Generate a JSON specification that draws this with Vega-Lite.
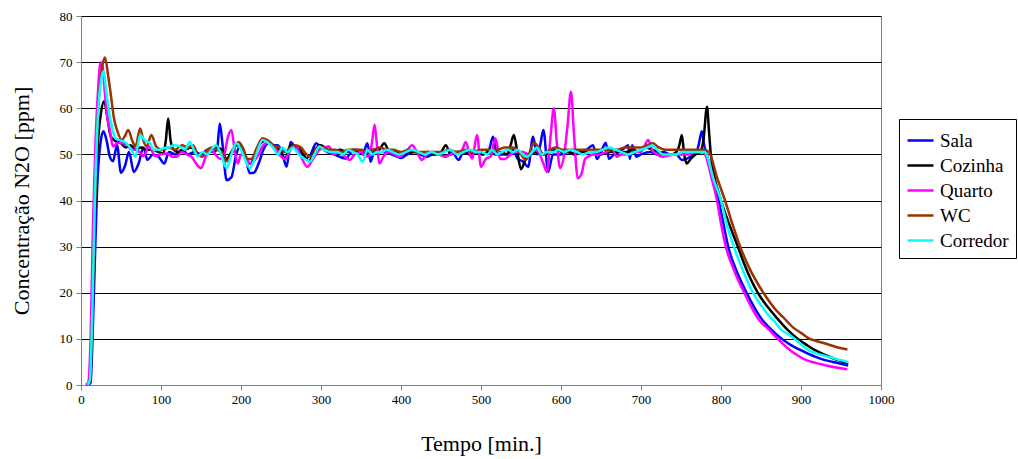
{
  "$schema": "https://vega.github.io/schema/vega-lite/v6.json",
  "width": 800,
  "height": 369,
  "autosize": "none",
  "padding": {"left": 81, "top": 16, "right": 137, "bottom": 74},
  "background": "white",
  "config": {
    "font": "Liberation Serif",
    "view": {"stroke": "#808080", "strokeWidth": 1},
    "axis": {"labelFont": "Liberation Serif", "titleFont": "Liberation Serif", "labelColor": "black", "titleColor": "black", "titleFontWeight": "normal", "domainColor": "#808080", "tickColor": "#808080", "labelFontSize": 13, "titleFontSize": 22, "labelFlush": false},
    "legend": {"labelFont": "Liberation Serif", "titleFont": "Liberation Serif"},
    "text": {"font": "Liberation Serif"}
  },
  "data": {"values": [
{"t":8,"s":"Sala","v":0},{"t":12,"s":"Sala","v":0.5},{"t":14,"s":"Sala","v":8},{"t":17,"s":"Sala","v":25},{"t":20,"s":"Sala","v":42},{"t":24,"s":"Sala","v":52},{"t":28,"s":"Sala","v":55},{"t":32,"s":"Sala","v":53},{"t":36,"s":"Sala","v":49.5},{"t":40,"s":"Sala","v":48.5},{"t":45,"s":"Sala","v":52},{"t":50,"s":"Sala","v":46},{"t":55,"s":"Sala","v":47.5},{"t":60,"s":"Sala","v":50.5},{"t":66,"s":"Sala","v":46.2},{"t":72,"s":"Sala","v":48},{"t":78,"s":"Sala","v":51.5},{"t":83,"s":"Sala","v":48.8},{"t":90,"s":"Sala","v":50},{"t":97,"s":"Sala","v":49.5},{"t":104,"s":"Sala","v":48},{"t":110,"s":"Sala","v":50.5},{"t":118,"s":"Sala","v":50},{"t":126,"s":"Sala","v":51},{"t":134,"s":"Sala","v":50},{"t":142,"s":"Sala","v":50.5},{"t":150,"s":"Sala","v":50},{"t":158,"s":"Sala","v":51},{"t":165,"s":"Sala","v":50.5},{"t":170,"s":"Sala","v":51},{"t":173.5,"s":"Sala","v":56.7},{"t":177,"s":"Sala","v":52},{"t":182,"s":"Sala","v":44.4},{"t":188,"s":"Sala","v":45},{"t":194,"s":"Sala","v":50},{"t":200,"s":"Sala","v":52},{"t":205,"s":"Sala","v":50},{"t":211,"s":"Sala","v":45.9},{"t":216,"s":"Sala","v":46},{"t":222,"s":"Sala","v":48},{"t":228,"s":"Sala","v":51},{"t":235,"s":"Sala","v":52.5},{"t":241,"s":"Sala","v":52},{"t":246,"s":"Sala","v":52},{"t":252,"s":"Sala","v":50},{"t":257,"s":"Sala","v":47.3},{"t":262,"s":"Sala","v":52.7},{"t":268,"s":"Sala","v":51.5},{"t":274,"s":"Sala","v":51},{"t":280,"s":"Sala","v":49},{"t":287,"s":"Sala","v":50},{"t":294,"s":"Sala","v":52.4},{"t":300,"s":"Sala","v":51.5},{"t":308,"s":"Sala","v":50.5},{"t":316,"s":"Sala","v":50},{"t":323,"s":"Sala","v":49.5},{"t":331,"s":"Sala","v":49.1},{"t":338,"s":"Sala","v":50.5},{"t":345,"s":"Sala","v":51},{"t":352,"s":"Sala","v":50},{"t":358,"s":"Sala","v":52.4},{"t":362,"s":"Sala","v":48.4},{"t":367,"s":"Sala","v":51},{"t":372,"s":"Sala","v":50.5},{"t":380,"s":"Sala","v":50.5},{"t":388,"s":"Sala","v":50},{"t":395,"s":"Sala","v":49.5},{"t":400,"s":"Sala","v":49.2},{"t":408,"s":"Sala","v":50},{"t":416,"s":"Sala","v":50.5},{"t":424,"s":"Sala","v":50},{"t":432,"s":"Sala","v":49.5},{"t":440,"s":"Sala","v":50},{"t":448,"s":"Sala","v":50},{"t":456,"s":"Sala","v":49.5},{"t":464,"s":"Sala","v":50.5},{"t":472,"s":"Sala","v":48.8},{"t":478,"s":"Sala","v":50.5},{"t":486,"s":"Sala","v":50},{"t":494,"s":"Sala","v":50.5},{"t":502,"s":"Sala","v":50},{"t":510,"s":"Sala","v":51},{"t":515,"s":"Sala","v":53.8},{"t":520,"s":"Sala","v":50},{"t":526,"s":"Sala","v":50},{"t":532,"s":"Sala","v":50},{"t":540,"s":"Sala","v":51},{"t":546,"s":"Sala","v":49},{"t":552,"s":"Sala","v":48.5},{"t":559,"s":"Sala","v":47.3},{"t":565,"s":"Sala","v":53.8},{"t":570,"s":"Sala","v":50},{"t":574,"s":"Sala","v":52},{"t":578,"s":"Sala","v":55.3},{"t":584,"s":"Sala","v":46.2},{"t":590,"s":"Sala","v":50},{"t":600,"s":"Sala","v":50},{"t":608,"s":"Sala","v":50.5},{"t":616,"s":"Sala","v":50},{"t":624,"s":"Sala","v":50.5},{"t":632,"s":"Sala","v":51},{"t":640,"s":"Sala","v":52},{"t":645,"s":"Sala","v":49},{"t":650,"s":"Sala","v":50.5},{"t":656,"s":"Sala","v":52.5},{"t":660,"s":"Sala","v":49},{"t":666,"s":"Sala","v":50},{"t":672,"s":"Sala","v":50.5},{"t":680,"s":"Sala","v":51.5},{"t":684,"s":"Sala","v":52},{"t":686,"s":"Sala","v":49},{"t":689,"s":"Sala","v":52},{"t":694,"s":"Sala","v":49.5},{"t":700,"s":"Sala","v":50},{"t":712,"s":"Sala","v":50.5},{"t":720,"s":"Sala","v":50},{"t":728,"s":"Sala","v":50.5},{"t":736,"s":"Sala","v":50},{"t":744,"s":"Sala","v":50},{"t":751,"s":"Sala","v":48.8},{"t":756,"s":"Sala","v":49},{"t":762,"s":"Sala","v":49.5},{"t":768,"s":"Sala","v":50},{"t":772,"s":"Sala","v":52},{"t":776,"s":"Sala","v":55},{"t":779,"s":"Sala","v":52},{"t":782,"s":"Sala","v":50},{"t":790,"s":"Sala","v":45},{"t":797,"s":"Sala","v":40},{"t":803,"s":"Sala","v":35},{"t":809,"s":"Sala","v":30},{"t":820,"s":"Sala","v":24.5},{"t":832,"s":"Sala","v":20},{"t":850,"s":"Sala","v":14.5},{"t":863,"s":"Sala","v":12},{"t":876,"s":"Sala","v":10},{"t":888,"s":"Sala","v":8.6},{"t":899,"s":"Sala","v":7.6},{"t":910,"s":"Sala","v":6.7},{"t":920,"s":"Sala","v":6},{"t":930,"s":"Sala","v":5.4},{"t":940,"s":"Sala","v":5},{"t":950,"s":"Sala","v":4.6},{"t":959,"s":"Sala","v":4.2},
{"t":8,"s":"Cozinha","v":0},{"t":11,"s":"Cozinha","v":1},{"t":14,"s":"Cozinha","v":14},{"t":17,"s":"Cozinha","v":35},{"t":21,"s":"Cozinha","v":52},{"t":25,"s":"Cozinha","v":59},{"t":29,"s":"Cozinha","v":61.5},{"t":33,"s":"Cozinha","v":58},{"t":37,"s":"Cozinha","v":54},{"t":42,"s":"Cozinha","v":53},{"t":50,"s":"Cozinha","v":52.4},{"t":56,"s":"Cozinha","v":51.5},{"t":62,"s":"Cozinha","v":52},{"t":68,"s":"Cozinha","v":51},{"t":75,"s":"Cozinha","v":51.5},{"t":82,"s":"Cozinha","v":51},{"t":90,"s":"Cozinha","v":51},{"t":97,"s":"Cozinha","v":50.5},{"t":103,"s":"Cozinha","v":50.2},{"t":106,"s":"Cozinha","v":53},{"t":109,"s":"Cozinha","v":57.8},{"t":112,"s":"Cozinha","v":53},{"t":116,"s":"Cozinha","v":51},{"t":122,"s":"Cozinha","v":50.5},{"t":130,"s":"Cozinha","v":51},{"t":138,"s":"Cozinha","v":51.5},{"t":146,"s":"Cozinha","v":50},{"t":154,"s":"Cozinha","v":50.5},{"t":162,"s":"Cozinha","v":51},{"t":170,"s":"Cozinha","v":51.5},{"t":176,"s":"Cozinha","v":51},{"t":182,"s":"Cozinha","v":49},{"t":188,"s":"Cozinha","v":50.5},{"t":194,"s":"Cozinha","v":52},{"t":200,"s":"Cozinha","v":51.5},{"t":206,"s":"Cozinha","v":49},{"t":212,"s":"Cozinha","v":48},{"t":218,"s":"Cozinha","v":50},{"t":225,"s":"Cozinha","v":52.5},{"t":232,"s":"Cozinha","v":53},{"t":240,"s":"Cozinha","v":52},{"t":248,"s":"Cozinha","v":51},{"t":255,"s":"Cozinha","v":49},{"t":262,"s":"Cozinha","v":52},{"t":270,"s":"Cozinha","v":51.5},{"t":278,"s":"Cozinha","v":50},{"t":285,"s":"Cozinha","v":48.5},{"t":292,"s":"Cozinha","v":51},{"t":300,"s":"Cozinha","v":52},{"t":308,"s":"Cozinha","v":51},{"t":316,"s":"Cozinha","v":50.5},{"t":324,"s":"Cozinha","v":51},{"t":332,"s":"Cozinha","v":50.5},{"t":340,"s":"Cozinha","v":51},{"t":348,"s":"Cozinha","v":50.5},{"t":356,"s":"Cozinha","v":50},{"t":364,"s":"Cozinha","v":51},{"t":372,"s":"Cozinha","v":51},{"t":379,"s":"Cozinha","v":52.4},{"t":386,"s":"Cozinha","v":50.5},{"t":394,"s":"Cozinha","v":50.5},{"t":402,"s":"Cozinha","v":50},{"t":410,"s":"Cozinha","v":50.5},{"t":418,"s":"Cozinha","v":50.5},{"t":426,"s":"Cozinha","v":50},{"t":434,"s":"Cozinha","v":50.5},{"t":442,"s":"Cozinha","v":50},{"t":450,"s":"Cozinha","v":50.5},{"t":456,"s":"Cozinha","v":52},{"t":462,"s":"Cozinha","v":50},{"t":470,"s":"Cozinha","v":50.5},{"t":478,"s":"Cozinha","v":50.5},{"t":486,"s":"Cozinha","v":50},{"t":494,"s":"Cozinha","v":50.5},{"t":502,"s":"Cozinha","v":50},{"t":510,"s":"Cozinha","v":50.5},{"t":518,"s":"Cozinha","v":50},{"t":526,"s":"Cozinha","v":50.5},{"t":532,"s":"Cozinha","v":50},{"t":537,"s":"Cozinha","v":52},{"t":541,"s":"Cozinha","v":54.2},{"t":545,"s":"Cozinha","v":51},{"t":550,"s":"Cozinha","v":46.8},{"t":556,"s":"Cozinha","v":49},{"t":562,"s":"Cozinha","v":50},{"t":570,"s":"Cozinha","v":50.5},{"t":578,"s":"Cozinha","v":50},{"t":586,"s":"Cozinha","v":50.5},{"t":594,"s":"Cozinha","v":51},{"t":602,"s":"Cozinha","v":50.5},{"t":610,"s":"Cozinha","v":50.5},{"t":618,"s":"Cozinha","v":50},{"t":626,"s":"Cozinha","v":50.5},{"t":634,"s":"Cozinha","v":50.5},{"t":642,"s":"Cozinha","v":50.5},{"t":650,"s":"Cozinha","v":50},{"t":658,"s":"Cozinha","v":50.5},{"t":666,"s":"Cozinha","v":50.5},{"t":674,"s":"Cozinha","v":50.5},{"t":682,"s":"Cozinha","v":50.5},{"t":690,"s":"Cozinha","v":51},{"t":698,"s":"Cozinha","v":50.5},{"t":706,"s":"Cozinha","v":51.5},{"t":714,"s":"Cozinha","v":51},{"t":722,"s":"Cozinha","v":50.5},{"t":730,"s":"Cozinha","v":50},{"t":738,"s":"Cozinha","v":50},{"t":744,"s":"Cozinha","v":50.5},{"t":748,"s":"Cozinha","v":52},{"t":751,"s":"Cozinha","v":54.2},{"t":754,"s":"Cozinha","v":50},{"t":757,"s":"Cozinha","v":48},{"t":762,"s":"Cozinha","v":49},{"t":768,"s":"Cozinha","v":50},{"t":774,"s":"Cozinha","v":50.5},{"t":778,"s":"Cozinha","v":53},{"t":782.5,"s":"Cozinha","v":60.3},{"t":785,"s":"Cozinha","v":55},{"t":787,"s":"Cozinha","v":50.5},{"t":792,"s":"Cozinha","v":45},{"t":800,"s":"Cozinha","v":40},{"t":810,"s":"Cozinha","v":35},{"t":821,"s":"Cozinha","v":30},{"t":832,"s":"Cozinha","v":25},{"t":846,"s":"Cozinha","v":20},{"t":858,"s":"Cozinha","v":17},{"t":870,"s":"Cozinha","v":14.5},{"t":883,"s":"Cozinha","v":12},{"t":896,"s":"Cozinha","v":10},{"t":907,"s":"Cozinha","v":8.7},{"t":917,"s":"Cozinha","v":7.6},{"t":930,"s":"Cozinha","v":6.5},{"t":940,"s":"Cozinha","v":5.8},{"t":950,"s":"Cozinha","v":5.2},{"t":959,"s":"Cozinha","v":4.7},
{"t":6,"s":"Quarto","v":0},{"t":9,"s":"Quarto","v":0.5},{"t":12,"s":"Quarto","v":10},{"t":15,"s":"Quarto","v":35},{"t":18,"s":"Quarto","v":52},{"t":21,"s":"Quarto","v":63},{"t":24.5,"s":"Quarto","v":70},{"t":27,"s":"Quarto","v":69},{"t":30,"s":"Quarto","v":63},{"t":33,"s":"Quarto","v":58},{"t":36,"s":"Quarto","v":55.3},{"t":40,"s":"Quarto","v":51.7},{"t":46,"s":"Quarto","v":52.5},{"t":52,"s":"Quarto","v":52.4},{"t":58,"s":"Quarto","v":52},{"t":63,"s":"Quarto","v":51},{"t":68,"s":"Quarto","v":51},{"t":73,"s":"Quarto","v":50.5},{"t":78,"s":"Quarto","v":49.6},{"t":85,"s":"Quarto","v":51.7},{"t":93,"s":"Quarto","v":49.6},{"t":100,"s":"Quarto","v":50},{"t":108,"s":"Quarto","v":50.2},{"t":114,"s":"Quarto","v":49.5},{"t":120,"s":"Quarto","v":49.5},{"t":126,"s":"Quarto","v":50.5},{"t":132,"s":"Quarto","v":50},{"t":138,"s":"Quarto","v":49.5},{"t":144,"s":"Quarto","v":48},{"t":150,"s":"Quarto","v":47},{"t":156,"s":"Quarto","v":49.5},{"t":162,"s":"Quarto","v":51},{"t":168,"s":"Quarto","v":50},{"t":174,"s":"Quarto","v":49},{"t":179,"s":"Quarto","v":50},{"t":184,"s":"Quarto","v":54},{"t":188,"s":"Quarto","v":55.3},{"t":192,"s":"Quarto","v":51},{"t":196,"s":"Quarto","v":48},{"t":200,"s":"Quarto","v":50},{"t":206,"s":"Quarto","v":49.5},{"t":211,"s":"Quarto","v":48},{"t":216,"s":"Quarto","v":48.5},{"t":222,"s":"Quarto","v":50},{"t":228,"s":"Quarto","v":52},{"t":234,"s":"Quarto","v":52.5},{"t":242,"s":"Quarto","v":51.5},{"t":248,"s":"Quarto","v":50},{"t":255,"s":"Quarto","v":49},{"t":262,"s":"Quarto","v":51},{"t":268,"s":"Quarto","v":52},{"t":275,"s":"Quarto","v":49.5},{"t":283,"s":"Quarto","v":47.3},{"t":290,"s":"Quarto","v":49},{"t":298,"s":"Quarto","v":51},{"t":304,"s":"Quarto","v":51.5},{"t":310,"s":"Quarto","v":51.7},{"t":316,"s":"Quarto","v":50},{"t":322,"s":"Quarto","v":50.5},{"t":330,"s":"Quarto","v":49.5},{"t":336,"s":"Quarto","v":48.8},{"t":342,"s":"Quarto","v":50},{"t":350,"s":"Quarto","v":50.5},{"t":356,"s":"Quarto","v":49.5},{"t":361,"s":"Quarto","v":50},{"t":364,"s":"Quarto","v":53},{"t":367,"s":"Quarto","v":56.4},{"t":370,"s":"Quarto","v":52},{"t":373,"s":"Quarto","v":48},{"t":378,"s":"Quarto","v":49.5},{"t":384,"s":"Quarto","v":50.5},{"t":392,"s":"Quarto","v":50},{"t":398,"s":"Quarto","v":49.5},{"t":406,"s":"Quarto","v":50.5},{"t":414,"s":"Quarto","v":52},{"t":420,"s":"Quarto","v":50.5},{"t":426,"s":"Quarto","v":48.8},{"t":432,"s":"Quarto","v":50},{"t":440,"s":"Quarto","v":50.5},{"t":448,"s":"Quarto","v":50},{"t":455,"s":"Quarto","v":49.5},{"t":462,"s":"Quarto","v":50},{"t":468,"s":"Quarto","v":50.5},{"t":474,"s":"Quarto","v":50},{"t":481,"s":"Quarto","v":52.7},{"t":485,"s":"Quarto","v":50.5},{"t":489,"s":"Quarto","v":49.1},{"t":495,"s":"Quarto","v":54.2},{"t":500,"s":"Quarto","v":47.3},{"t":506,"s":"Quarto","v":49},{"t":512,"s":"Quarto","v":49.5},{"t":518,"s":"Quarto","v":53.5},{"t":524,"s":"Quarto","v":49},{"t":530,"s":"Quarto","v":49},{"t":537,"s":"Quarto","v":50},{"t":544,"s":"Quarto","v":50.5},{"t":552,"s":"Quarto","v":50.5},{"t":560,"s":"Quarto","v":50},{"t":566,"s":"Quarto","v":51},{"t":572,"s":"Quarto","v":50.5},{"t":578,"s":"Quarto","v":48},{"t":582.5,"s":"Quarto","v":46.2},{"t":587,"s":"Quarto","v":54},{"t":591,"s":"Quarto","v":60},{"t":595,"s":"Quarto","v":52},{"t":599,"s":"Quarto","v":47},{"t":604,"s":"Quarto","v":50},{"t":608,"s":"Quarto","v":56},{"t":612.5,"s":"Quarto","v":63.6},{"t":616,"s":"Quarto","v":55},{"t":621,"s":"Quarto","v":44.8},{"t":626,"s":"Quarto","v":46},{"t":630,"s":"Quarto","v":49},{"t":634,"s":"Quarto","v":49.5},{"t":640,"s":"Quarto","v":50},{"t":648,"s":"Quarto","v":50},{"t":656,"s":"Quarto","v":50.5},{"t":664,"s":"Quarto","v":51},{"t":670,"s":"Quarto","v":49.5},{"t":676,"s":"Quarto","v":50},{"t":684,"s":"Quarto","v":50},{"t":690,"s":"Quarto","v":50.5},{"t":696,"s":"Quarto","v":50.5},{"t":702,"s":"Quarto","v":51},{"t":709,"s":"Quarto","v":53.1},{"t":714,"s":"Quarto","v":51},{"t":720,"s":"Quarto","v":50},{"t":728,"s":"Quarto","v":49.5},{"t":736,"s":"Quarto","v":49.8},{"t":744,"s":"Quarto","v":50},{"t":752,"s":"Quarto","v":50},{"t":760,"s":"Quarto","v":50},{"t":768,"s":"Quarto","v":50.5},{"t":776,"s":"Quarto","v":50.5},{"t":780,"s":"Quarto","v":50},{"t":788,"s":"Quarto","v":45},{"t":795,"s":"Quarto","v":40},{"t":800,"s":"Quarto","v":35},{"t":806,"s":"Quarto","v":30},{"t":816,"s":"Quarto","v":25},{"t":829,"s":"Quarto","v":20},{"t":848,"s":"Quarto","v":14},{"t":860,"s":"Quarto","v":12},{"t":871,"s":"Quarto","v":10},{"t":886,"s":"Quarto","v":7.6},{"t":895,"s":"Quarto","v":6.5},{"t":905,"s":"Quarto","v":5.5},{"t":918,"s":"Quarto","v":4.8},{"t":930,"s":"Quarto","v":4.3},{"t":944,"s":"Quarto","v":3.8},{"t":958,"s":"Quarto","v":3.4},
{"t":8,"s":"WC","v":0},{"t":11,"s":"WC","v":1},{"t":14,"s":"WC","v":14},{"t":17,"s":"WC","v":36},{"t":21,"s":"WC","v":58},{"t":25,"s":"WC","v":67},{"t":30,"s":"WC","v":71},{"t":34,"s":"WC","v":67},{"t":38,"s":"WC","v":62},{"t":41,"s":"WC","v":58},{"t":45,"s":"WC","v":55.3},{"t":51,"s":"WC","v":53.1},{"t":55,"s":"WC","v":54},{"t":59,"s":"WC","v":55.3},{"t":64,"s":"WC","v":53},{"t":68,"s":"WC","v":51.7},{"t":74,"s":"WC","v":55.6},{"t":78,"s":"WC","v":53},{"t":82,"s":"WC","v":51.7},{"t":88,"s":"WC","v":54.2},{"t":94,"s":"WC","v":51.7},{"t":102,"s":"WC","v":51},{"t":110,"s":"WC","v":51.5},{"t":118,"s":"WC","v":51},{"t":126,"s":"WC","v":52},{"t":134,"s":"WC","v":51.5},{"t":140,"s":"WC","v":52},{"t":146,"s":"WC","v":50},{"t":152,"s":"WC","v":49.5},{"t":158,"s":"WC","v":51},{"t":164,"s":"WC","v":51.5},{"t":170,"s":"WC","v":51},{"t":176,"s":"WC","v":50.5},{"t":182,"s":"WC","v":48.5},{"t":188,"s":"WC","v":50},{"t":193,"s":"WC","v":52},{"t":197,"s":"WC","v":52.7},{"t":202,"s":"WC","v":51.5},{"t":208,"s":"WC","v":49},{"t":213,"s":"WC","v":49},{"t":220,"s":"WC","v":51.5},{"t":227,"s":"WC","v":53.5},{"t":234,"s":"WC","v":53},{"t":240,"s":"WC","v":52},{"t":248,"s":"WC","v":51.5},{"t":255,"s":"WC","v":50.5},{"t":262,"s":"WC","v":51.5},{"t":268,"s":"WC","v":52},{"t":275,"s":"WC","v":51.5},{"t":282,"s":"WC","v":50},{"t":288,"s":"WC","v":49.5},{"t":295,"s":"WC","v":51.5},{"t":302,"s":"WC","v":51.5},{"t":310,"s":"WC","v":51},{"t":318,"s":"WC","v":51},{"t":326,"s":"WC","v":50.5},{"t":334,"s":"WC","v":51},{"t":342,"s":"WC","v":51},{"t":350,"s":"WC","v":51},{"t":358,"s":"WC","v":50.5},{"t":366,"s":"WC","v":51},{"t":374,"s":"WC","v":51.5},{"t":382,"s":"WC","v":51},{"t":390,"s":"WC","v":51},{"t":400,"s":"WC","v":50.5},{"t":410,"s":"WC","v":51},{"t":420,"s":"WC","v":50.5},{"t":430,"s":"WC","v":50.5},{"t":440,"s":"WC","v":50.5},{"t":450,"s":"WC","v":50.5},{"t":460,"s":"WC","v":51},{"t":470,"s":"WC","v":50.5},{"t":480,"s":"WC","v":51},{"t":490,"s":"WC","v":50.5},{"t":500,"s":"WC","v":51},{"t":510,"s":"WC","v":51},{"t":520,"s":"WC","v":51},{"t":530,"s":"WC","v":51.5},{"t":540,"s":"WC","v":51.5},{"t":548,"s":"WC","v":50.5},{"t":556,"s":"WC","v":48.8},{"t":562,"s":"WC","v":51},{"t":566,"s":"WC","v":52.5},{"t":572,"s":"WC","v":51.5},{"t":578,"s":"WC","v":50},{"t":586,"s":"WC","v":51},{"t":594,"s":"WC","v":51.5},{"t":602,"s":"WC","v":51},{"t":610,"s":"WC","v":51},{"t":620,"s":"WC","v":51},{"t":630,"s":"WC","v":51},{"t":640,"s":"WC","v":51},{"t":650,"s":"WC","v":51},{"t":660,"s":"WC","v":51},{"t":670,"s":"WC","v":51},{"t":680,"s":"WC","v":51.5},{"t":690,"s":"WC","v":51.5},{"t":700,"s":"WC","v":51.5},{"t":708,"s":"WC","v":52},{"t":715,"s":"WC","v":52.4},{"t":722,"s":"WC","v":51.5},{"t":730,"s":"WC","v":51},{"t":740,"s":"WC","v":51},{"t":750,"s":"WC","v":51},{"t":760,"s":"WC","v":51},{"t":770,"s":"WC","v":51},{"t":779,"s":"WC","v":51},{"t":785,"s":"WC","v":50.5},{"t":795,"s":"WC","v":45},{"t":805,"s":"WC","v":40},{"t":815,"s":"WC","v":34.5},{"t":824,"s":"WC","v":30},{"t":835,"s":"WC","v":25.5},{"t":853,"s":"WC","v":20},{"t":870,"s":"WC","v":16},{"t":877,"s":"WC","v":14.8},{"t":890,"s":"WC","v":12.5},{"t":900,"s":"WC","v":11.3},{"t":911,"s":"WC","v":10},{"t":920,"s":"WC","v":9.5},{"t":930,"s":"WC","v":9},{"t":945,"s":"WC","v":8.2},{"t":958,"s":"WC","v":7.7},
{"t":8,"s":"Corredor","v":0},{"t":11,"s":"Corredor","v":1},{"t":14,"s":"Corredor","v":15},{"t":17,"s":"Corredor","v":38},{"t":21,"s":"Corredor","v":58},{"t":25,"s":"Corredor","v":66},{"t":28,"s":"Corredor","v":68},{"t":32,"s":"Corredor","v":63},{"t":36,"s":"Corredor","v":58.2},{"t":40,"s":"Corredor","v":55},{"t":43,"s":"Corredor","v":53.5},{"t":50,"s":"Corredor","v":53},{"t":57,"s":"Corredor","v":52.4},{"t":63,"s":"Corredor","v":51},{"t":68,"s":"Corredor","v":49.5},{"t":74,"s":"Corredor","v":54.2},{"t":80,"s":"Corredor","v":53},{"t":86,"s":"Corredor","v":52.5},{"t":91,"s":"Corredor","v":51},{"t":98,"s":"Corredor","v":51},{"t":104,"s":"Corredor","v":51.4},{"t":110,"s":"Corredor","v":51.5},{"t":116,"s":"Corredor","v":52},{"t":124,"s":"Corredor","v":51.7},{"t":130,"s":"Corredor","v":51},{"t":136,"s":"Corredor","v":52.7},{"t":141,"s":"Corredor","v":51},{"t":146,"s":"Corredor","v":49.6},{"t":152,"s":"Corredor","v":50.5},{"t":158,"s":"Corredor","v":50},{"t":163,"s":"Corredor","v":51},{"t":169,"s":"Corredor","v":52},{"t":175,"s":"Corredor","v":50},{"t":182,"s":"Corredor","v":47},{"t":188,"s":"Corredor","v":50},{"t":194,"s":"Corredor","v":52.4},{"t":200,"s":"Corredor","v":51},{"t":206,"s":"Corredor","v":48.5},{"t":211,"s":"Corredor","v":47},{"t":217,"s":"Corredor","v":49},{"t":222,"s":"Corredor","v":51.5},{"t":227,"s":"Corredor","v":53.1},{"t":234,"s":"Corredor","v":52.5},{"t":240,"s":"Corredor","v":51.5},{"t":246,"s":"Corredor","v":50},{"t":252,"s":"Corredor","v":51.5},{"t":258,"s":"Corredor","v":50.5},{"t":265,"s":"Corredor","v":51.5},{"t":272,"s":"Corredor","v":50},{"t":280,"s":"Corredor","v":49},{"t":286,"s":"Corredor","v":48.4},{"t":292,"s":"Corredor","v":50},{"t":298,"s":"Corredor","v":51.7},{"t":304,"s":"Corredor","v":51},{"t":312,"s":"Corredor","v":50.5},{"t":320,"s":"Corredor","v":50.5},{"t":328,"s":"Corredor","v":50},{"t":334,"s":"Corredor","v":51},{"t":340,"s":"Corredor","v":50.5},{"t":346,"s":"Corredor","v":50},{"t":352,"s":"Corredor","v":48.4},{"t":358,"s":"Corredor","v":51},{"t":364,"s":"Corredor","v":50},{"t":370,"s":"Corredor","v":50.5},{"t":376,"s":"Corredor","v":50.5},{"t":382,"s":"Corredor","v":51},{"t":390,"s":"Corredor","v":50.5},{"t":398,"s":"Corredor","v":50},{"t":406,"s":"Corredor","v":50.5},{"t":414,"s":"Corredor","v":51},{"t":422,"s":"Corredor","v":50.5},{"t":430,"s":"Corredor","v":50},{"t":438,"s":"Corredor","v":50.5},{"t":446,"s":"Corredor","v":50},{"t":454,"s":"Corredor","v":50.5},{"t":462,"s":"Corredor","v":51},{"t":470,"s":"Corredor","v":50},{"t":478,"s":"Corredor","v":50.5},{"t":486,"s":"Corredor","v":51},{"t":494,"s":"Corredor","v":50.5},{"t":500,"s":"Corredor","v":50.5},{"t":508,"s":"Corredor","v":50},{"t":514,"s":"Corredor","v":51},{"t":520,"s":"Corredor","v":50},{"t":526,"s":"Corredor","v":50.5},{"t":534,"s":"Corredor","v":51},{"t":540,"s":"Corredor","v":50.5},{"t":546,"s":"Corredor","v":51},{"t":552,"s":"Corredor","v":50},{"t":558,"s":"Corredor","v":49.5},{"t":564,"s":"Corredor","v":50.5},{"t":570,"s":"Corredor","v":51.5},{"t":576,"s":"Corredor","v":50},{"t":582,"s":"Corredor","v":50.5},{"t":590,"s":"Corredor","v":50.5},{"t":596,"s":"Corredor","v":51},{"t":604,"s":"Corredor","v":50.5},{"t":612,"s":"Corredor","v":51},{"t":620,"s":"Corredor","v":50.5},{"t":628,"s":"Corredor","v":50},{"t":636,"s":"Corredor","v":50.5},{"t":644,"s":"Corredor","v":50.5},{"t":652,"s":"Corredor","v":51},{"t":660,"s":"Corredor","v":51.5},{"t":668,"s":"Corredor","v":51},{"t":676,"s":"Corredor","v":50.5},{"t":684,"s":"Corredor","v":50},{"t":692,"s":"Corredor","v":50.5},{"t":700,"s":"Corredor","v":51},{"t":708,"s":"Corredor","v":51.5},{"t":714,"s":"Corredor","v":52},{"t":720,"s":"Corredor","v":51},{"t":728,"s":"Corredor","v":50},{"t":736,"s":"Corredor","v":50},{"t":744,"s":"Corredor","v":50},{"t":752,"s":"Corredor","v":50.5},{"t":760,"s":"Corredor","v":50.5},{"t":770,"s":"Corredor","v":50.5},{"t":780,"s":"Corredor","v":50.5},{"t":784,"s":"Corredor","v":49},{"t":790,"s":"Corredor","v":45},{"t":800,"s":"Corredor","v":40},{"t":807,"s":"Corredor","v":35},{"t":816,"s":"Corredor","v":30},{"t":827,"s":"Corredor","v":25},{"t":840,"s":"Corredor","v":20},{"t":850,"s":"Corredor","v":17.3},{"t":860,"s":"Corredor","v":15},{"t":868,"s":"Corredor","v":13.5},{"t":875,"s":"Corredor","v":12},{"t":884,"s":"Corredor","v":11},{"t":892,"s":"Corredor","v":10},{"t":900,"s":"Corredor","v":8.8},{"t":910,"s":"Corredor","v":7.5},{"t":920,"s":"Corredor","v":6.8},{"t":930,"s":"Corredor","v":6.3},{"t":937,"s":"Corredor","v":6},{"t":945,"s":"Corredor","v":5.6},{"t":952,"s":"Corredor","v":5.3},{"t":959,"s":"Corredor","v":5}
  ]},
  "mark": {"type": "line", "strokeWidth": 2.5, "interpolate": "monotone"},
  "encoding": {
    "x": {"field": "t", "type": "quantitative", "scale": {"domain": [0, 1000], "nice": false, "zero": true}, "axis": {"title": "Tempo [min.]", "format": "d", "labelFont": "Liberation Serif", "labelFontSize": 13, "labelFlush": false, "values": [0,100,200,300,400,500,600,700,800,900,1000], "grid": false, "tickSize": 5, "labelPadding": 3, "titlePadding": 27}},
    "y": {"field": "v", "type": "quantitative", "scale": {"domain": [0, 80], "nice": false}, "axis": {"title": "Concentração N2O [ppm]", "format": "d", "labelFont": "Liberation Serif", "labelFontSize": 13, "labelFlush": false, "values": [0,10,20,30,40,50,60,70,80], "grid": true, "gridColor": "black", "gridWidth": 1, "gridOpacity": 1, "tickSize": 5, "labelPadding": 4, "titlePadding": 26}},
    "color": {"field": "s", "type": "nominal", "scale": {"domain": ["Sala", "Cozinha", "Quarto", "WC", "Corredor"], "range": ["#0000FF", "#000000", "#FF00FF", "#993300", "#00FFFF"]},
      "legend": {"title": null, "orient": "none", "legendX": 818, "legendY": 103, "symbolType": "stroke", "symbolSize": 676, "symbolStrokeWidth": 2.5, "labelFont": "Liberation Serif", "labelFontSize": 19, "labelColor": "black", "strokeColor": "black", "fillColor": "white", "padding": 7, "rowPadding": -5, "labelOffset": 5}}
  }
}
